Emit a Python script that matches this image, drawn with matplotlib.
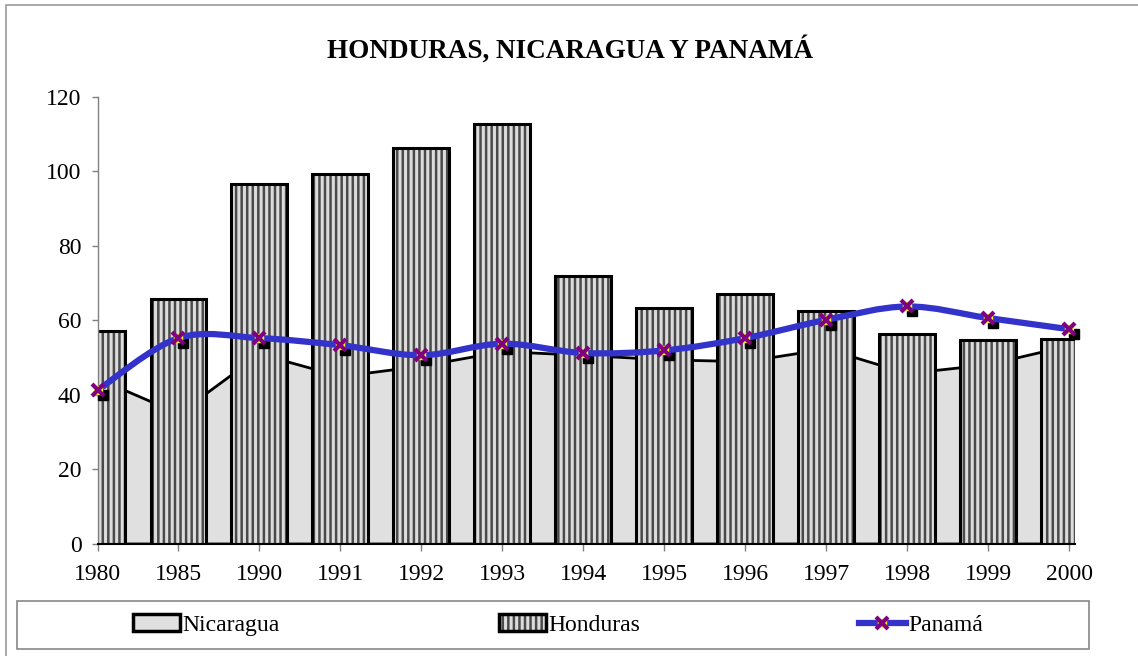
import matplotlib
matplotlib.use("Agg")
import matplotlib.pyplot as plt
import matplotlib.transforms as mtransforms
from matplotlib.path import Path
from matplotlib.patches import PathPatch, Patch, Rectangle
from matplotlib.lines import Line2D
from matplotlib.legend_handler import HandlerTuple

plt.rcParams['font.family'] = ['Liberation Serif', 'DejaVu Serif']
plt.rcParams['hatch.color'] = '#4a4a4a'
plt.rcParams['hatch.linewidth'] = 1.8

years = ['1980', '1985', '1990', '1991', '1992', '1993', '1994',
         '1995', '1996', '1997', '1998', '1999', '2000']
nicaragua = [44.4, 35.0, 51.0, 45.0, 47.8, 51.7, 50.7, 49.5, 49.0, 52.4, 45.8, 48.2, 53.3]
honduras = [57.1, 65.7, 96.6, 99.3, 106.3, 112.7, 71.9, 63.3, 67.0, 62.6, 56.4, 54.7, 55.0]
panama = [41.2, 55.2, 55.2, 53.3, 50.6, 53.7, 51.2, 51.9, 55.2, 60.1, 63.7, 60.6, 57.6]

title = 'HONDURAS, NICARAGUA Y PANAMÁ'

W, H = 1138, 656
fig = plt.figure(figsize=(W / 100, H / 100), dpi=100)
fig.patch.set_facecolor('white')

ax = fig.add_axes([97.5 / W, 1 - 543.5 / H, (1075 - 97.5) / W, (543.5 - 97) / H])
x = list(range(len(years)))

# Nicaragua area
ax.fill_between(x, nicaragua, 0, facecolor='#e0e0e0', edgecolor='black',
                linewidth=2.0, zorder=1)

# Honduras bars: hatched fill then black outline
bw = 0.69
hatch = '|||'
ax.bar(x, honduras, width=bw, color='#dcdcdc', edgecolor='#4a4a4a',
       linewidth=0, hatch=hatch, zorder=2)
ax.bar(x, honduras, width=bw, fill=False, edgecolor='black',
       linewidth=2.2, zorder=2.1)

# Panama smoothed line (Excel-style bezier through points)
pts = list(zip(x, panama))
n = len(pts)
verts = [pts[0]]
codes = [Path.MOVETO]
for i in range(n - 1):
    p0 = pts[i - 1] if i > 0 else pts[i]
    p1 = pts[i]
    p2 = pts[i + 1]
    p3 = pts[i + 2] if i + 2 < n else pts[i + 1]
    c1 = (p1[0] + (p2[0] - p0[0]) / 6.0, p1[1] + (p2[1] - p0[1]) / 6.0)
    c2 = (p2[0] - (p3[0] - p1[0]) / 6.0, p2[1] - (p3[1] - p1[1]) / 6.0)
    verts += [c1, c2, p2]
    codes += [Path.CURVE4] * 3
blue = '#3333cc'
ax.add_patch(PathPatch(Path(verts, codes), fill=False, edgecolor=blue,
                       linewidth=4.5, capstyle='round', joinstyle='round',
                       zorder=4))

# marker shadows
shadow_tr = mtransforms.offset_copy(ax.transData, fig=fig, x=5, y=-5, units='dots')
ax.plot(x, panama, linestyle='none', marker='s', markersize=7, color='black',
        transform=shadow_tr, zorder=3, clip_on=False)
ax.plot(x, panama, linestyle='none', marker='s', markersize=6,
        markerfacecolor='#ffff00', markeredgecolor='#ffff00', zorder=5, clip_on=False)
ax.plot(x, panama, linestyle='none', marker='x', markersize=8, markeredgewidth=3,
        color='#800080', zorder=6, clip_on=False)

ax.set_xlim(0, 12.074)
ax.set_ylim(0, 120)
ax.set_yticks([0, 20, 40, 60, 80, 100, 120])
ax.set_xticks(x)
ax.set_xticklabels(years)
ax.tick_params(axis='y', direction='out', length=4.5, width=1, color='#808080',
               labelsize=17, pad=7)
ax.tick_params(axis='x', direction='out', length=5, width=1, color='#808080',
               labelsize=17, pad=10)
for s in ['top', 'right']:
    ax.spines[s].set_visible(False)
ax.spines['left'].set_color('#808080')
ax.spines['left'].set_linewidth(1)
ax.spines['bottom'].set_color('black')
ax.spines['bottom'].set_linewidth(1.5)
ax.set_facecolor('none')

fig.text(570 / W, 1 - 50 / H, title, ha='center', va='center',
         fontsize=19.5, fontweight='bold')

# outer frame
fig.add_artist(Rectangle((6 / W, -0.05), 1.1, 1 - 5 / H + 0.05, transform=fig.transFigure,
                         fill=False, edgecolor='#999999', linewidth=1.2))

# legend frame
fig.add_artist(Rectangle((17 / W, 1 - 649 / H), 1072 / W, 48 / H,
                         transform=fig.transFigure, fill=False,
                         edgecolor='#888888', linewidth=1.2))

h_nic = Patch(facecolor='#e0e0e0', edgecolor='black', linewidth=2.5)
h_hon = (Patch(facecolor='#dcdcdc', edgecolor='#4a4a4a', linewidth=0, hatch=hatch),
         Patch(fill=False, edgecolor='black', linewidth=2.5))
h_pan = (Line2D([], [], color=blue, linewidth=4.5),
         Line2D([], [], linestyle='none', marker='s', markersize=6,
                markerfacecolor='#ffff00', markeredgecolor='#ffff00'),
         Line2D([], [], linestyle='none', marker='x', markersize=8,
                markeredgewidth=3, color='#800080'))
fig.legend([h_nic, h_hon, h_pan], ['Nicaragua', 'Honduras', 'Panamá'],
           ncol=3, mode='expand', loc='center',
           bbox_to_anchor=(133 / W, 1 - 649 / H, 850 / W, 48 / H),
           bbox_transform=fig.transFigure, frameon=False, fontsize=17,
           handlelength=2.0, handleheight=0.7, handletextpad=0.1,
           borderpad=0, borderaxespad=0,
           handler_map={tuple: HandlerTuple(ndivide=1, pad=0)})

fig.savefig('out.png', dpi=100)
